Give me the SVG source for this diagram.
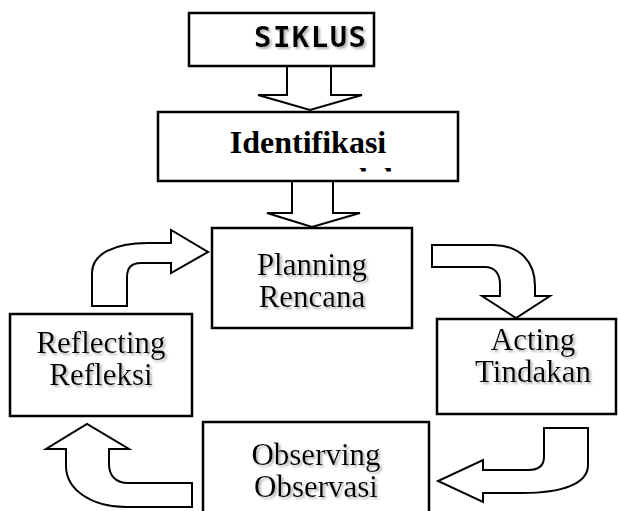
<svg xmlns="http://www.w3.org/2000/svg" width="618" height="511" viewBox="0 0 618 511">
<defs>
<style>
.box{fill:#fff;stroke:#000;stroke-width:2.5}
.arr{fill:#fff;stroke:#000;stroke-width:2;stroke-linejoin:miter}
.lbl{font-family:"Liberation Serif","Times New Roman",serif;font-size:31px;fill:#000;text-anchor:middle;filter:url(#sh)}
.bold{font-family:"Liberation Serif","Times New Roman",serif;font-size:32px;font-weight:bold;fill:#000}
.mono{font-family:"DejaVu Sans Mono",monospace;font-size:29px;font-weight:bold;fill:#000;filter:url(#sh)}
</style>
<filter id="sh" x="-10%" y="-20%" width="130%" height="150%">
<feDropShadow dx="2" dy="2" stdDeviation="1" flood-color="#b4b4b4" flood-opacity="1"/>
</filter>
<clipPath id="clipIdent"><rect x="160" y="114" width="296" height="57.5"/></clipPath>
</defs>
<g id="connectors">
<path class="arr" d="M287,66 L287,95 L258,95 L310,110 L362,95 L331,95 L331,66"/>
<path class="arr" d="M292,181 L292,213 L267,213 L312,227 L360,213 L333,213 L333,181"/>
<path class="arr" d="M432,245 L493,245 C520,245 535,262 535,286 L535,296 L550,296 L516,318 L482,296 L500,296 L500,284 C500,273 494,267 485,267 L432,267 Z"/>
<path class="arr" d="M544,428 L588,428 L588,465 C588,484 562,493 522,493 L483,493 L483,502 L438,481 L483,460 L483,470 L528,470 C539,470 544,465 544,457 Z"/>
<path class="arr" d="M192,483 L192,507 L126,507 C92,507 66,490 66,466 L66,449 L46,449 L87,424 L129,449 L109,449 L109,464 C109,476 116,483 128,483 Z"/>
<path class="arr" d="M92,306 L92,273 C92,254 114,243 148,243 L171,243 L171,230 L208,252 L171,273 L171,263 L141,263 C132,263 127,268 127,277 L127,306 Z"/>
</g>
<g id="siklus">
<rect class="box" x="189" y="13" width="185" height="53"/>
<text class="mono" x="254" y="47" textLength="112" lengthAdjust="spacing">SIKLUS</text>
</g>
<g id="identifikasi">
<rect class="box" x="158" y="112" width="300" height="69"/>
<text class="bold" x="308" y="153" text-anchor="middle">Identifikasi</text>
<g clip-path="url(#clipIdent)"><text class="bold" x="288" y="190">masalah</text></g>
</g>
<g id="planning">
<rect class="box" x="212" y="228" width="200" height="100"/>
<text class="lbl" x="312" y="275">Planning</text>
<text class="lbl" x="312" y="307">Rencana</text>
</g>
<g id="acting">
<rect class="box" x="437" y="319" width="179" height="95"/>
<text class="lbl" x="533" y="350">Acting</text>
<text class="lbl" x="533" y="382">Tindakan</text>
</g>
<g id="observing">
<rect class="box" x="203" y="422" width="226" height="95"/>
<text class="lbl" x="316" y="465">Observing</text>
<text class="lbl" x="316" y="497">Observasi</text>
</g>
<g id="reflecting">
<rect class="box" x="10" y="314" width="182" height="102"/>
<text class="lbl" x="101" y="353">Reflecting</text>
<text class="lbl" x="101" y="385">Refleksi</text>
</g>
</svg>
